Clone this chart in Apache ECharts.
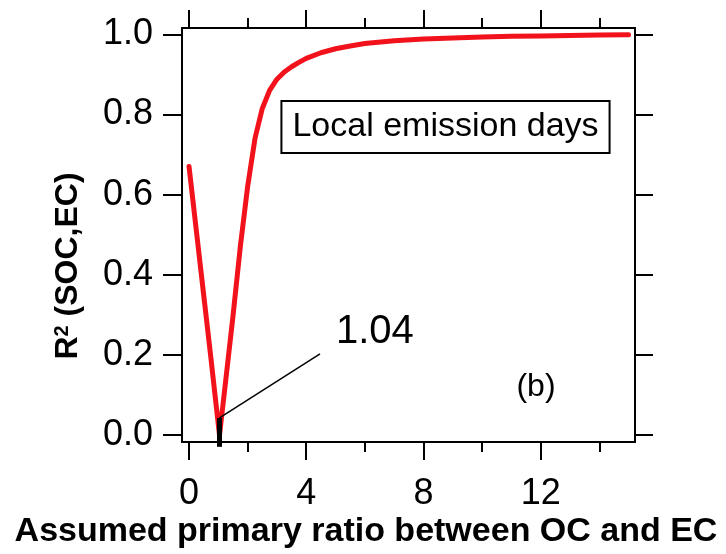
<!DOCTYPE html>
<html>
<head>
<meta charset="utf-8">
<script src="https://cdn.jsdelivr.net/npm/echarts@6/dist/echarts.min.js"></script>
<style>
  html, body { margin: 0; padding: 0; background: #fff; }
  #chart { width: 726px; height: 554px; }
</style>
</head>
<body>
<div id="chart"></div>
<script>
// Assumed primary OC/EC ratio and the resulting R² between SOC and EC
const ratio = [0, 0.25, 0.5, 0.75, 1.04, 1.25, 1.5, 1.75, 2.0, 2.25, 2.5, 2.75, 3.0, 3.25, 3.5, 3.75, 4.0, 4.5, 5.0, 5.5, 6.0, 7.0, 8.0, 9.0, 10.0, 11.0, 12.0, 13.0, 14.0, 15.0];
const r2 = [0.67, 0.51, 0.35, 0.19, 0.0, 0.135, 0.297, 0.47, 0.62, 0.74, 0.815, 0.86, 0.888, 0.906, 0.919, 0.93, 0.94, 0.954, 0.964, 0.971, 0.977, 0.984, 0.988, 0.991, 0.993, 0.995, 0.996, 0.997, 0.998, 0.999];

// Ratio at which R² reaches its minimum
const minRatio = 1.04;

// Tick positions
const xMajorTicks = [0, 4, 8, 12];
const xMinorTicks = [2, 6, 10, 14];
const yTicks = [0, 0.2, 0.4, 0.6, 0.8, 1.0];

const FONT = '"Liberation Sans", Arial, sans-serif';
const X_MIN = -0.24, X_MAX = 15.22;
const Y_MIN = -0.017, Y_MAX = 1.0157;

const black = { color: '#000', width: 2 };

function xAxisDef(position, ticks, len, withLine, extra) {
  return Object.assign({
    type: 'value',
    position: position,
    min: X_MIN,
    max: X_MAX,
    axisLine: { show: withLine, onZero: false, lineStyle: black },
    axisTick: { show: true, inside: false, customValues: ticks, length: len, lineStyle: black },
    axisLabel: { show: false },
    splitLine: { show: false }
  }, extra || {});
}

const chart = echarts.init(document.getElementById('chart'), null, { renderer: 'canvas' });

chart.setOption({
  animation: false,
  backgroundColor: '#fff',
  grid: { left: 182, right: 91, top: 28, bottom: 112, containLabel: false, outerBoundsMode: 'none' },
  xAxis: [
    xAxisDef('bottom', xMajorTicks, 18, true, {
      axisLabel: {
        show: true,
        customValues: xMajorTicks,
        fontSize: 36,
        fontFamily: FONT,
        color: '#000',
        margin: 34
      },
      name: 'Assumed primary ratio between OC and EC',
      nameLocation: 'middle',
      nameGap: 73,
      nameMoveOverlap: false,
      nameTextStyle: {
        fontSize: 34,
        fontWeight: 'bold',
        fontFamily: FONT,
        color: '#000',
        padding: [0, 85, 0, 0]
      }
    }),
    xAxisDef('bottom', xMinorTicks, 10, false),
    xAxisDef('top', xMajorTicks, 18, true),
    xAxisDef('top', xMinorTicks, 10, false)
  ],
  yAxis: [
    {
      type: 'value',
      position: 'left',
      min: Y_MIN,
      max: Y_MAX,
      axisLine: { show: true, onZero: false, lineStyle: black },
      axisTick: { show: true, inside: false, customValues: yTicks, length: 19, lineStyle: black },
      axisLabel: {
        customValues: yTicks,
        fontSize: 36,
        fontFamily: FONT,
        color: '#000',
        margin: 29,
        formatter: v => v.toFixed(1)
      },
      splitLine: { show: false },
      name: '{m|R}{sup|2}{m| (SOC,EC)}',
      nameLocation: 'middle',
      nameRotate: 90,
      nameGap: 98,
      nameMoveOverlap: false,
      nameTextStyle: {
        color: '#000',
        padding: [0, 62, 0, 0],
        rich: {
          m: { fontSize: 32, fontWeight: 'bold', fontFamily: FONT, color: '#000', lineHeight: 32, verticalAlign: 'bottom' },
          sup: { fontSize: 20, fontWeight: 'bold', fontFamily: FONT, color: '#000', lineHeight: 20, verticalAlign: 'top', padding: [0, 0, 32, 0] }
        }
      }
    },
    {
      type: 'value',
      position: 'right',
      min: Y_MIN,
      max: Y_MAX,
      axisLine: { show: true, onZero: false, lineStyle: black },
      axisTick: { show: true, inside: false, customValues: yTicks, length: 18, lineStyle: black },
      axisLabel: { show: false },
      splitLine: { show: false }
    }
  ],
  series: [
    {
      name: 'R2',
      type: 'line',
      xAxisIndex: 0,
      yAxisIndex: 0,
      data: ratio.map((x, i) => [x, r2[i]]),
      showSymbol: false,
      symbol: 'none',
      lineStyle: { color: '#f2121c', width: 5, join: 'round', cap: 'round' },
      z: 3
    },
    {
      // tag marking the minimum
      type: 'line',
      xAxisIndex: 0,
      yAxisIndex: 0,
      data: [[minRatio, -0.029], [minRatio, 0.043]],
      symbol: 'none',
      clip: false,
      lineStyle: { color: '#000', width: 5, cap: 'butt' },
      z: 4
    },
    {
      // leader line to the minimum label
      type: 'line',
      xAxisIndex: 0,
      yAxisIndex: 0,
      data: [[minRatio, 0.043], [4.47, 0.203]],
      symbol: 'none',
      clip: false,
      lineStyle: { color: '#000', width: 1.5 },
      endLabel: {
        show: true,
        formatter: () => minRatio.toFixed(2),
        fontSize: 40,
        fontFamily: FONT,
        color: '#000',
        distance: 16,
        offset: [0, -22]
      },
      z: 4
    }
  ],
  graphic: [
    {
      type: 'text',
      x: 445.5,
      y: 127,
      z: 10,
      style: {
        text: 'Local emission days',
        font: '34px ' + FONT,
        fill: '#000',
        align: 'center',
        verticalAlign: 'middle',
        backgroundColor: '#fff',
        borderColor: '#000',
        borderWidth: 2,
        padding: [8, 10, 8, 10]
      }
    },
    {
      type: 'text',
      x: 536,
      y: 387,
      z: 10,
      style: {
        text: '(b)',
        font: '32px ' + FONT,
        fill: '#000',
        align: 'center',
        verticalAlign: 'middle'
      }
    }
  ]
});
</script>
</body>
</html>
